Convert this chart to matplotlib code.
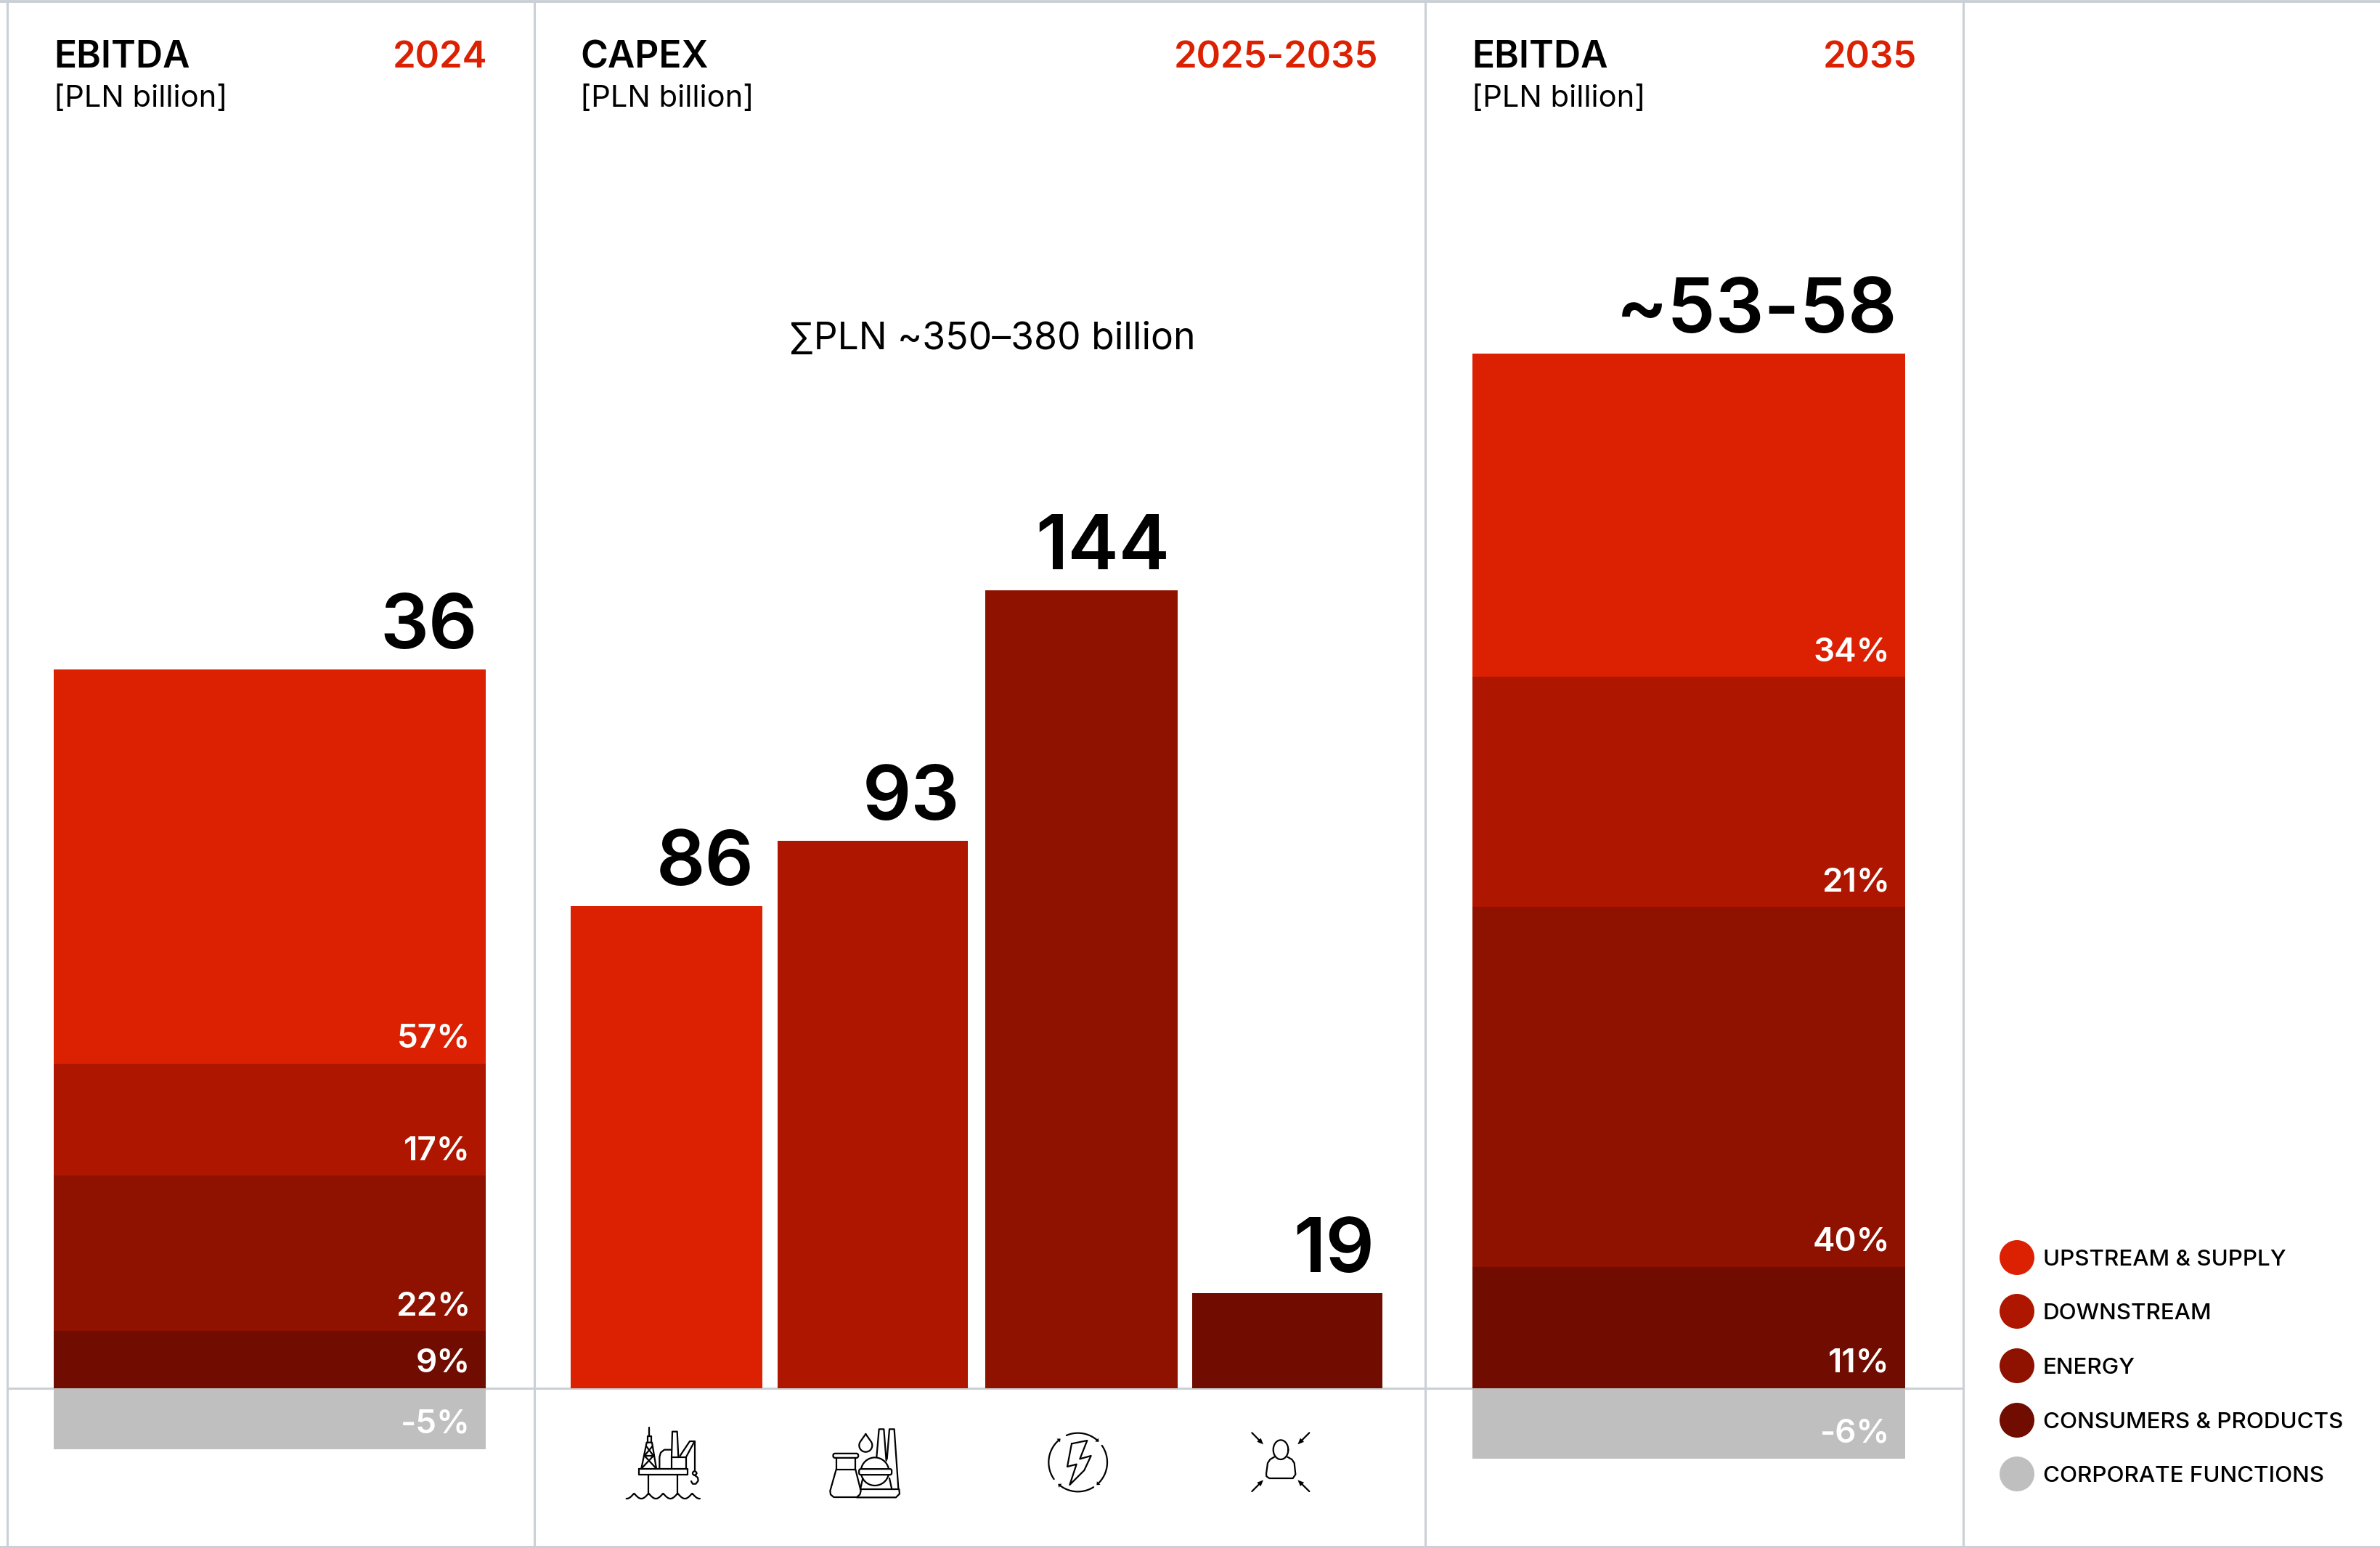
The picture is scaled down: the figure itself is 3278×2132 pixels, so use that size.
import numpy as np
import matplotlib
matplotlib.use("Agg")
import matplotlib.pyplot as plt
from matplotlib.patches import Circle, Polygon, FancyBboxPatch

W, H = 3278, 2132
ZERO_PX = 1912

RED1 = "#dc2002"
RED2 = "#ae1600"
RED3 = "#8f1100"
RED4 = "#700c00"
GREY = "#bfbfbf"
LINE = "#cbd0d6"

# stacked bars bottom to top, heights
ebitda_2024 = [3.0, 8.18, 5.9, 20.72]
ebitda_2024_neg = -3.2
ebitda_2024_labels = ["9%", "22%", "17%", "57%"]
ebitda_2024_neg_label = "-5%"
ebitda_2035 = [6.38, 18.92, 12.1, 17.0]
ebitda_2035_neg = -3.7
ebitda_2035_labels = ["11%", "40%", "21%", "34%"]
ebitda_2035_neg_label = "-6%"
capex_values = [87.0, 98.8, 144.0, 17.2]
capex_labels = ["86", "93", "144", "19"]
stack_colors = [RED4, RED3, RED2, RED1]
capex_colors = [RED1, RED2, RED3, RED4]
legend_names = ["UPSTREAM & SUPPLY", "DOWNSTREAM", "ENERGY", "CONSUMERS & PRODUCTS", "CORPORATE FUNCTIONS"]
legend_colors = [RED1, RED2, RED3, RED4, GREY]

plt.rcParams["font.family"] = ["Inter", "DejaVu Sans"]

fig = plt.figure(figsize=(W / 200, H / 200), dpi=200)
fig.patch.set_facecolor("white")

# px-space axes for frame, text, legend and icons
bg = fig.add_axes([0, 0, 1, 1])
bg.set_xlim(0, W)
bg.set_ylim(H, 0)
bg.axis("off")

for x in [10, 736, 1963, 2704]:
    bg.plot([x, x], [2, 2131], color=LINE, lw=1.1, zorder=1)
bg.plot([0, W], [2, 2], color=LINE, lw=1.4, zorder=1)
bg.plot([0, W], [2131, 2131], color=LINE, lw=1.4, zorder=1)
bg.plot([10, 2704], [ZERO_PX, ZERO_PX], color=LINE, lw=1.1, zorder=1)


def bar_axes(x0, x1, scale):
    # axes spans the whole figure height so zero falls on the grid line
    ax = fig.add_axes([x0 / W, 0, (x1 - x0) / W, 1])
    ax.set_xlim(x0, x1)
    ax.set_ylim(-(H - ZERO_PX) / scale, ZERO_PX / scale)
    ax.axis("off")
    ax.patch.set_alpha(0)
    return ax


def px(n):
    return n * 72 / 200


def seg_label(ax, x, y, txt):
    ax.annotate(txt, (x, y), xytext=(px(-21), px(22)), textcoords="offset points",
                ha="right", va="baseline", color="white", fontsize=16.5, fontweight="semibold")


def big_label(ax, x, y, txt):
    ax.annotate(txt, (x, y), xytext=(px(-11), px(29)), textcoords="offset points",
                ha="right", va="baseline", color="black", fontsize=38, fontweight="semibold")


def stacked(x0, x1, vals, labels, neg, neg_label, total):
    ax = bar_axes(x0, x1, 26.2)
    mid = (x0 + x1) / 2
    bottom = 0
    for v, lab, col in zip(vals, labels, stack_colors):
        ax.bar(mid, v, bottom=bottom, width=x1 - x0, color=col, linewidth=0)
        seg_label(ax, x1, bottom, lab)
        bottom += v
    ax.bar(mid, neg, width=x1 - x0, color=GREY, linewidth=0)
    seg_label(ax, x1, neg, neg_label)
    big_label(ax, x1, bottom, total)


stacked(74, 669, ebitda_2024, ebitda_2024_labels, ebitda_2024_neg, ebitda_2024_neg_label, "36")
stacked(2028, 2624, ebitda_2035, ebitda_2035_labels, ebitda_2035_neg, ebitda_2035_neg_label, "~53-58")

ax_c = bar_axes(786, 1904, 7.63)
capex_x = [(786, 1050), (1071, 1333), (1357, 1622), (1642, 1904)]
for (a, b), v, lab, col in zip(capex_x, capex_values, capex_labels, capex_colors):
    ax_c.bar((a + b) / 2, v, width=b - a, color=col, linewidth=0)
    big_label(ax_c, b, v, lab)


# headers
def header(x_left, x_right, title, period):
    bg.text(x_left, 93, title, ha="left", va="baseline", fontsize=18.5, fontweight="semibold", color="black")
    bg.text(x_left, 147, "[PLN billion]", ha="left", va="baseline", fontsize=15, color="black")
    bg.text(x_right, 93, period, ha="right", va="baseline", fontsize=18.3, fontweight="semibold", color=RED1)


header(74, 671, "EBITDA", "2024")
header(799, 1898, "CAPEX", "2025-2035")
header(2027, 2640, "EBITDA", "2035")
bg.text(1367, 481, "\u2211PLN ~350\u2013380 billion", ha="center", va="baseline", fontsize=18.6, color="black")

# legend
for name, col, y in zip(legend_names, legend_colors, [1732, 1806, 1881, 1956, 2030]):
    bg.add_patch(Circle((2778, y), 24, color=col, linewidth=0))
    bg.text(2814, y + 11, name, ha="left", va="baseline", fontsize=11.3, fontweight="medium", color="black")

ICON_LW = 0.8


# icons: shapes below are in crop coords, 3 units to a px
def to_px(origin, pts):
    pts = np.array(pts, dtype=float)
    return origin[0] + pts[:, 0] / 3, origin[1] + pts[:, 1] / 3


def stroke(origin, pts, closed=False):
    xs, ys = to_px(origin, list(pts) + ([pts[0]] if closed else []))
    bg.plot(xs, ys, color="black", lw=ICON_LW, solid_capstyle="round", solid_joinstyle="round", zorder=3)


def arc(origin, cx, cy, r, a0, a1, ry=None):
    t = np.radians(np.linspace(a0, a1, 40))
    ry = r if ry is None else ry
    stroke(origin, list(zip(cx + r * np.cos(t), cy - ry * np.sin(t))))


def filled(origin, pts):
    xs, ys = to_px(origin, pts)
    bg.add_patch(Polygon(list(zip(xs, ys)), closed=True, color="black", linewidth=0, zorder=3))


# offshore platform
o = (840, 1950)
stroke(o, [(120, 220), (322, 220), (322, 243), (120, 243)], closed=True)
stroke(o, [(160, 243), (160, 325)])
stroke(o, [(280, 243), (280, 325)])
wx = np.linspace(68, 372, 120)
stroke(o, list(zip(wx, 342 - 22 * (1 - np.abs(np.sin(np.pi * (wx - 100) / 60))))))
stroke(o, [(130, 218), (152, 110), (174, 110), (192, 218)])
stroke(o, [(155, 110), (155, 85), (171, 85), (171, 110)])
stroke(o, [(163, 85), (163, 47)])
stroke(o, [(143, 165), (180, 165)])
stroke(o, [(143, 165), (192, 218)])
stroke(o, [(180, 165), (130, 218)])
stroke(o, [(150, 125), (180, 165)])
stroke(o, [(176, 125), (143, 165)])
stroke(o, [(205, 218), (205, 170), (210, 152), (225, 140), (252, 140)])
stroke(o, [(255, 218), (255, 170), (315, 170), (315, 218)])
stroke(o, [(255, 170), (258, 65), (278, 65), (283, 170)])
stroke(o, [(290, 165), (330, 105), (350, 105), (315, 170)])
stroke(o, [(350, 105), (350, 228)])
arc(o, 350, 237, 8, 0, 360)
stroke(o, [(350, 245), (363, 255), (365, 268), (355, 281), (342, 281), (336, 270)])

# refinery
o = (1120, 1950)
arc(o, 255, 230, 58, 0, 360)
stroke(o, [(262, 170), (272, 55), (292, 55), (302, 185)])
stroke(o, [(305, 178), (315, 55), (335, 55), (352, 300)])
stroke(o, [(205, 258), (195, 303)])
stroke(o, [(315, 258), (325, 303)])
stroke(o, [(195, 303), (355, 303), (357, 322), (342, 337), (180, 337)])
stroke(o, [(95, 172), (95, 222), (175, 222), (175, 172)])
stroke(o, [(95, 222), (70, 310), (72, 325), (85, 336), (180, 336), (193, 325), (197, 310), (175, 222)])
for (x0, y0, x1, y1) in [(81, 157, 188, 172), (188, 221, 326, 242)]:
    xs, ys = to_px(o, [(x0, y0), (x1, y1)])
    bg.add_patch(FancyBboxPatch((xs[0] + 2, ys[0] + 1), xs[1] - xs[0] - 4, ys[1] - ys[0] - 2,
                                boxstyle="round,pad=1.5,rounding_size=2.5", fc="white", ec="black",
                                lw=ICON_LW, zorder=3))
t = np.radians(np.linspace(35, -215, 40))
stroke(o, [(217, 75)] + list(zip(217 + 27 * np.cos(t), 122 - 27 * np.sin(t))) + [(217, 75)])

# bolt in a ring of arrows
o = (1410, 1950)
cx, cy, r = 224, 192, 121
for a0, a1 in [(113, 50), (35, -45), (-58, -127), (215, 132)]:
    arc(o, cx, cy, r, a0, a1)
    t = np.radians(a1)
    tip = np.array([cx + r * np.cos(t), cy - r * np.sin(t)])
    rad = np.array([np.cos(t), -np.sin(t)])
    tan = np.array([np.sin(t), np.cos(t)])
    filled(o, [tip + tan * 12, tip + rad * 10, tip - rad * 10])
stroke(o, [(198, 115), (262, 102), (232, 178), (278, 165), (250, 225), (190, 285), (218, 200), (180, 210)], closed=True)

# person with arrows
o = (1690, 1950)
arc(o, 222, 140, 31, 0, 360, ry=40)
stroke(o, [(162, 240), (168, 195), (178, 180), (195, 170)])
stroke(o, [(250, 170), (268, 180), (278, 195), (283, 242), (272, 258), (175, 258), (163, 250), (162, 240)])
for (x0, y0), (x1, y1) in [((103, 70), (150, 118)), ((340, 70), (292, 118)),
                           ((103, 312), (150, 265)), ((340, 312), (292, 265))]:
    d = np.array([x1 - x0, y1 - y0], dtype=float)
    d /= np.hypot(*d)
    n = np.array([-d[1], d[0]])
    tip = np.array([x1, y1], dtype=float)
    stroke(o, [(x0, y0), tuple(tip - d * 15)])
    filled(o, [tip, tip - d * 26 + n * 11, tip - d * 26 - n * 11])

fig.savefig("out.png", dpi=200)
